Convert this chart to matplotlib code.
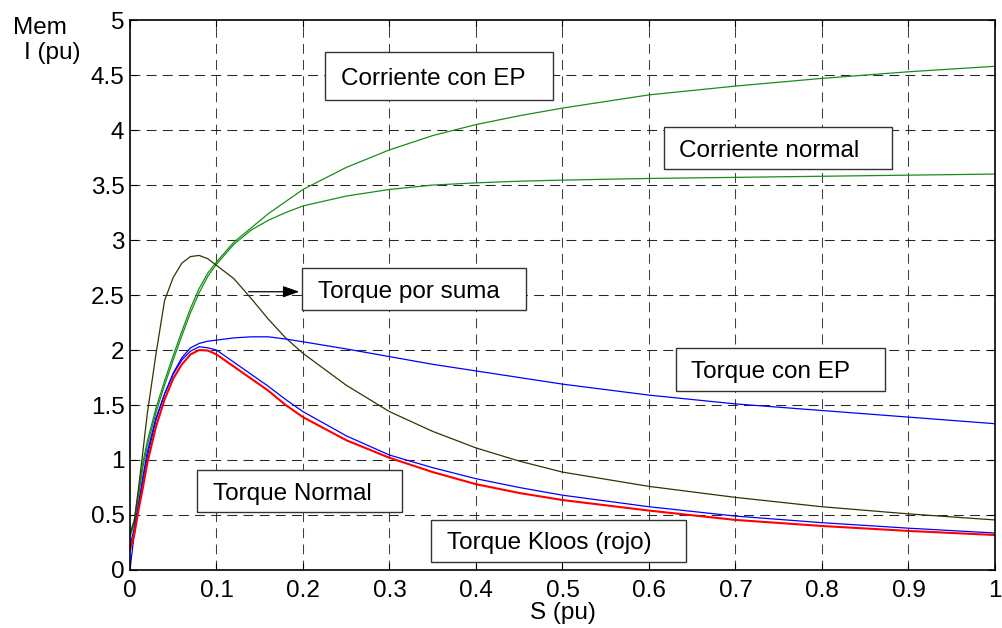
import matplotlib
matplotlib.use('Agg')
import matplotlib.pyplot as plt
from matplotlib.patches import Rectangle

plt.rcParams['font.family'] = ['Liberation Sans', 'DejaVu Sans']

# deslizamiento (pu)
s = [0, 0.005, 0.01, 0.015, 0.02, 0.03, 0.04, 0.05, 0.06, 0.07, 0.08, 0.09, 0.1,
     0.12, 0.14, 0.16, 0.18, 0.2, 0.25, 0.3, 0.35, 0.4, 0.45, 0.5, 0.6, 0.7, 0.8, 0.9, 1.0]

corriente_ep = [0.33, 0.45, 0.72, 0.98, 1.17, 1.47, 1.72, 1.95, 2.17, 2.38, 2.56, 2.70, 2.80,
                2.98, 3.11, 3.24, 3.35, 3.46, 3.66, 3.82, 3.95, 4.05, 4.13, 4.20, 4.32, 4.40, 4.47, 4.53, 4.58]
corriente_normal = [0.30, 0.42, 0.68, 0.94, 1.13, 1.43, 1.68, 1.91, 2.13, 2.34, 2.52, 2.67, 2.78,
                    2.96, 3.09, 3.18, 3.25, 3.31, 3.40, 3.46, 3.50, 3.52, 3.535, 3.545, 3.56, 3.57, 3.58, 3.59, 3.60]
torque_suma = [0.33, 0.45, 0.75, 1.08, 1.42, 1.96, 2.45, 2.66, 2.79, 2.85, 2.86, 2.83, 2.77,
               2.65, 2.47, 2.28, 2.11, 1.97, 1.68, 1.44, 1.26, 1.11, 0.99, 0.89, 0.76, 0.66, 0.575, 0.51, 0.455]
torque_ep = [0.0, 0.33, 0.6, 0.85, 1.07, 1.38, 1.60, 1.79, 1.93, 2.02, 2.06, 2.08, 2.09,
             2.11, 2.12, 2.12, 2.10, 2.075, 2.01, 1.94, 1.87, 1.81, 1.75, 1.69, 1.59, 1.51, 1.45, 1.39, 1.33]
torque_normal = [0.22, 0.38, 0.6, 0.82, 1.03, 1.36, 1.60, 1.78, 1.91, 1.99, 2.03, 2.02, 2.00,
                 1.89, 1.78, 1.67, 1.55, 1.44, 1.22, 1.045, 0.93, 0.83, 0.75, 0.68, 0.575, 0.49, 0.43, 0.38, 0.336]
torque_kloos = [0.18, 0.32, 0.55, 0.75, 0.97, 1.30, 1.55, 1.74, 1.87, 1.96, 2.00, 1.995, 1.96,
                1.85, 1.74, 1.63, 1.50, 1.39, 1.18, 1.02, 0.89, 0.78, 0.70, 0.636, 0.54, 0.455, 0.40, 0.355, 0.318]

xticks = [0, 0.1, 0.2, 0.3, 0.4, 0.5, 0.6, 0.7, 0.8, 0.9, 1]
xlabels = ['0', '0.1', '0.2', '0.3', '0.4', '0.5', '0.6', '0.7', '0.8', '0.9', '1']
yticks = [0, 0.5, 1, 1.5, 2, 2.5, 3, 3.5, 4, 4.5, 5]
ylabels = ['0', '0.5', '1', '1.5', '2', '2.5', '3', '3.5', '4', '4.5', '5']

# cuadros de texto: texto, x0, y0, x1, y1 (datos)
cuadros = [
    ('Corriente con EP', 0.2254, 4.273, 0.489, 4.709),
    ('Corriente normal', 0.617, 3.645, 0.881, 4.027),
    ('Torque por suma', 0.199, 2.364, 0.458, 2.745),
    ('Torque con EP', 0.631, 1.627, 0.873, 2.018),
    ('Torque Normal', 0.0775, 0.527, 0.3145, 0.909),
    ('Torque Kloos (rojo)', 0.348, 0.0727, 0.643, 0.4545),
]

fs = 17.5

fig = plt.figure(figsize=(10.02, 6.28), dpi=100)
ax = fig.add_axes([0.1297, 0.0924, 0.993 - 0.1297, 0.968 - 0.0924])

grid_ls = (0, (9.5, 6))
for x in xticks[1:-1]:
    ax.axvline(x, color='0.25', lw=0.75, ls=grid_ls, zorder=0)
for y in yticks[1:-1]:
    ax.axhline(y, color='0.15', lw=0.75, ls=grid_ls, zorder=0)

verde = '#1a8c1a'
ax.plot(s, corriente_ep, color=verde, lw=0.9)
ax.plot(s, corriente_normal, color=verde, lw=0.9)
ax.plot(s, torque_suma, color='#333300', lw=0.9)
ax.plot(s, torque_ep, color='#0000ff', lw=0.9)
ax.plot(s, torque_normal, color='#0000ff', lw=0.9)
ax.plot(s, torque_kloos, color='#ff0000', lw=1.5)

for txt, x0, y0, x1, y1 in cuadros:
    ax.add_patch(Rectangle((x0, y0), x1 - x0, y1 - y0, facecolor='white',
                           edgecolor='0.2', lw=1.0, zorder=5))
    ax.text(x0 + 0.018, (y0 + y1) / 2, txt, fontsize=fs, ha='left', va='center_baseline', zorder=6)

ax.annotate('', xy=(0.199, 2.53), xytext=(0.134, 2.53),
            arrowprops=dict(arrowstyle='-|>,head_length=1.0,head_width=0.35', color='black', lw=0.9),
            zorder=6)

ax.set_xlim(0, 1)
ax.set_ylim(0, 5)
ax.set_xticks(xticks)
ax.set_xticklabels(xlabels)
ax.set_yticks(yticks)
ax.set_yticklabels(ylabels)
ax.tick_params(direction='in', length=5, width=0.8, labelsize=fs, top=True, right=True)
ax.tick_params(axis='x', pad=7)
ax.tick_params(axis='y', pad=4)
for sp in ax.spines.values():
    sp.set_linewidth(1.2)

ax.set_xlabel('S (pu)', fontsize=fs, labelpad=0)
fig.text(40 / 1002, 1 - 28 / 628, 'Mem', fontsize=fs, ha='center', va='center')
fig.text(52 / 1002, 1 - 53 / 628, 'I (pu)', fontsize=fs, ha='center', va='center')

fig.savefig('out.png', dpi=100)
